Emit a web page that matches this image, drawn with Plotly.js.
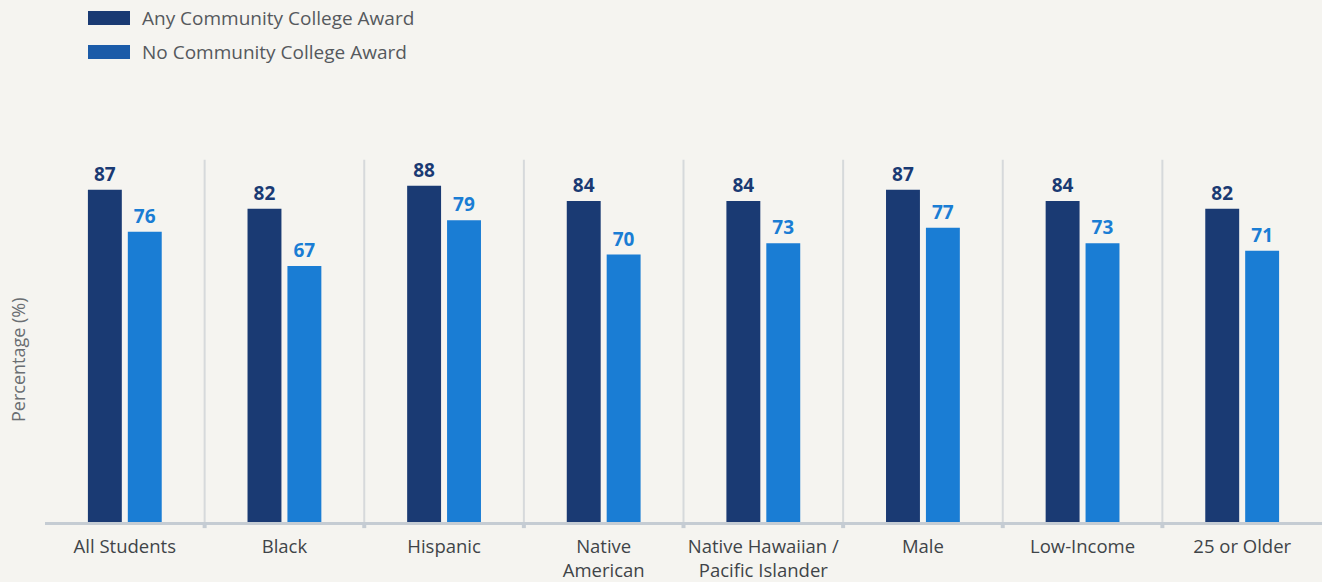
<!DOCTYPE html>
<html>
<head>
<meta charset="utf-8">
<script src="https://cdn.plot.ly/plotly-3.0.1.min.js"></script>
<style>
  html, body { margin: 0; padding: 0; background: #f5f4f0; }
  #chart { width: 1322px; height: 582px; }
</style>
</head>
<body>
<div id="chart"></div>
<script>
const categories = ["All Students", "Black", "Hispanic", "Native<br>American", "Native Hawaiian /<br>Pacific Islander", "Male", "Low-Income", "25 or Older"];
const anyAward = [87, 82, 88, 84, 84, 87, 84, 82];
const noAward = [76, 67, 79, 70, 73, 77, 73, 71];
const seriesNames = ["Any Community College Award", "No Community College Award"];
const barColors = ["#1a3a73", "#1a7dd4"];
const legendColors = ["#1a3a73", "#1b5ba8"];

const fontFamily = "'Open Sans', Lato, sans-serif";

const traces = [anyAward, noAward].map((vals, k) => ({
  type: "bar",
  x: categories,
  y: vals,
  name: seriesNames[k],
  marker: { color: barColors[k] },
  text: vals.map(String),
  textposition: "outside",
  textfont: { family: fontFamily, size: 19, color: barColors[k], weight: 700 },
  cliponaxis: false,
  hoverinfo: "skip",
  showlegend: false
}));

const shapes = [];
for (let i = 0; i < categories.length - 1; i++) {
  shapes.push({ type: "line", xref: "x", yref: "paper", x0: i + 0.5, x1: i + 0.5, y0: 0, y1: 0.948,
    line: { color: "#d6d9db", width: 2 }, layer: "below" });
  shapes.push({ type: "line", xref: "x", yref: "paper", x0: i + 0.5, x1: i + 0.5, y0: 0, y1: -0.016,
    line: { color: "#c5ccd3", width: 4 }, layer: "above" });
}

const annotations = [];
seriesNames.forEach((nm, k) => {
  const yc = k === 0 ? 18 : 52;
  shapes.push({ type: "rect", xref: "paper", yref: "paper",
    x0: (88 - 45) / 1277, x1: (130 - 45) / 1277,
    y0: (582 - 60 - (yc + 7)) / 382, y1: (582 - 60 - (yc - 7)) / 382,
    fillcolor: legendColors[k], line: { width: 0 } });
  annotations.push({ xref: "paper", yref: "paper", x: (140 - 45) / 1277, y: (582 - 60 - yc) / 382,
    xanchor: "left", yanchor: "middle", showarrow: false, text: nm,
    font: { family: fontFamily, size: 19, color: "#55595d" } });
});
annotations.push({ xref: "paper", yref: "paper", x: (18 - 45) / 1277, y: (582 - 60 - 360) / 382,
  xanchor: "center", yanchor: "middle", showarrow: false, textangle: -90,
  text: "Percentage (%)", font: { family: fontFamily, size: 18, color: "#6a6e72" } });

const layout = {
  width: 1322, height: 582,
  margin: { l: 45, r: 0, t: 140, b: 60 },
  paper_bgcolor: "#f5f4f0", plot_bgcolor: "#f5f4f0",
  barmode: "group", bargap: 0.5, bargroupgap: 0.15,
  showlegend: false,
  xaxis: {
    type: "category", range: [-0.5, 7.5],
    showline: true, linecolor: "#c5ccd3", linewidth: 3,
    ticks: "", showgrid: false, zeroline: false,
    ticklabelstandoff: 6,
    tickfont: { family: fontFamily, size: 18.5, color: "#3f4448" }
  },
  yaxis: {
    range: [0, 100], showticklabels: false, showgrid: false, zeroline: false, showline: false, ticks: ""
  },
  shapes: shapes,
  annotations: annotations,
  font: { family: fontFamily }
};

Plotly.newPlot("chart", traces, layout, { displayModeBar: false, staticPlot: true });
</script>
</body>
</html>
